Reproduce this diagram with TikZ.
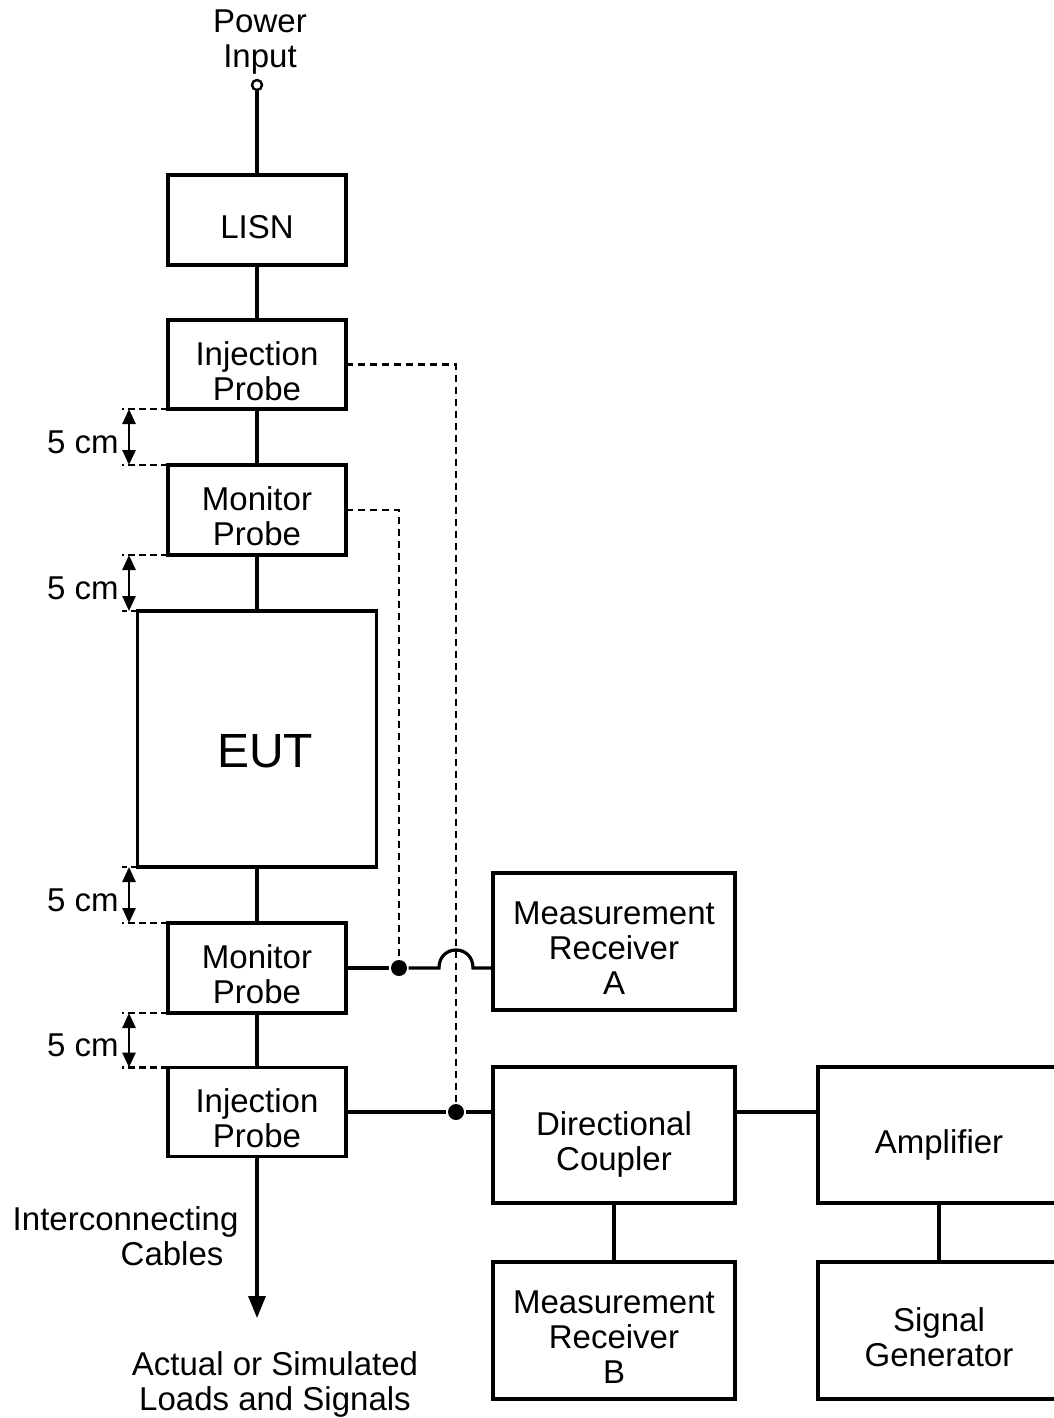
\documentclass[tikz,border=0pt]{standalone}
\usepackage{fontspec}
\setmainfont{Liberation Sans}
\usetikzlibrary{arrows.meta}

\begin{document}
\begin{tikzpicture}[x=1pt, y=-1pt, line width=3.2pt, font=\fontsize{33}{35}\selectfont,
    box/.style = {draw, align=center, inner sep=0, outer sep=0, text depth=0pt},
    one/.style = {text height=36pt},
    two/.style = {text height=71pt},
    three/.style = {text height=106pt},
    probe/.style = {box, two, minimum width=178pt, minimum height=89pt},
    unit/.style = {box, minimum width=242pt, minimum height=137pt},
    dot/.style = {circle, fill, inner sep=0, minimum size=16pt},
    ext/.style = {line width=2.6pt, dash pattern=on 7pt off 4pt},
    link/.style = {line width=2.8pt, dash pattern=on 7pt off 5pt},
    dim/.style = {line width=2.6pt, <->, >={Triangle[length=15pt,width=13pt]}}]
    \useasboundingbox (0,0) rectangle (1053,1418);

    \node[align=center, anchor=base] (PIN) at (260, 68) {Power\\Input};
    \node[circle, draw, fill=white, inner sep=0, minimum size=10pt, line width=2.4pt] (T) at (257, 85) {};
    \node[probe, one, minimum height=90pt] (LISN) at (257, 220) {LISN};
    \node[probe] (IP1) at (257, 364.5) {Injection\\Probe};
    \node[probe, minimum height=90pt] (MP1) at (257, 510) {Monitor\\Probe};
    \node[draw, inner sep=0, outer sep=0, minimum width=239pt, minimum height=256pt] (EUT) at (257, 739) {};
    \node[font=\fontsize{48}{50}\selectfont] (EUTlbl) at (265, 751) {EUT};
    \node[probe, minimum height=90pt] (MP2) at (257, 968) {Monitor\\Probe};
    \node[probe] (IP2) at (257, 1112) {Injection\\Probe};

    \node[unit, three] (MRA) at (614, 941.5) {Measurement\\Receiver\\A};
    \node[unit, two, minimum height=136pt] (DC) at (614, 1135) {Directional\\Coupler};
    \node[unit, one, minimum height=136pt] (AMP) at (939, 1135) {Amplifier};
    \node[unit, three] (MRB) at (614, 1330.5) {Measurement\\Receiver\\B};
    \node[unit, two] (SG) at (939, 1330.5) {Signal\\Generator};

    \node[dot] (D1) at (399, 968) {};
    \node[dot] (D2) at (456, 1112) {};
    \coordinate (J1) at (439, 968);
    \coordinate (J2) at (473, 968);
    \coordinate (OUT) at (257, 1318);
    \coordinate (L) at (122, 0);
    \coordinate (A) at (129, 0);

    % main cable
    \foreach \a/\b in {T/LISN, LISN/IP1, IP1/MP1, MP1/EUT, EUT/MP2, MP2/IP2}
        \draw (\a) -- (\b);
    \draw[->, >={Triangle[length=22pt,width=17pt]}] (IP2) -- (OUT);

    % 5 cm spacings
    \foreach \a/\b in {IP1/MP1, MP1/EUT, EUT/MP2, MP2/IP2} {
        \draw[ext] (\a.south west) -- (L |- \a.south west);
        \draw[ext] (\b.north west) -- (L |- \b.north west);
        \draw[dim] (A |- \a.south west) -- node[left=9pt, inner sep=0, yshift=-5pt] (S\a) {5 cm} (A |- \b.north west);
    }

    % probe leads
    \draw[link] (IP1.east) -| (D2);
    \draw[link] (MP1.east) -| (D1);
    \draw (MP2) -- (D1);
    \draw (D1) -- (J1) .. controls +(0,-24) and +(0,-24) .. (J2) -- (J2 -| MRA.west);
    \draw (IP2) -- (D2);
    \draw (D2) -- (D2 -| DC.west);
    \draw (DC.east |- D2) -- (AMP.west |- D2);
    \draw (DC) -- (MRB);
    \draw (AMP) -- (SG);

    \node[align=right, anchor=base east, inner sep=0] (IC) at (240, 1265) {Interconnecting\\Cables\kern15pt};
    \node[align=center, anchor=base] (LOAD) at (275, 1410) {Actual or Simulated\\Loads and Signals};
\end{tikzpicture}
\end{document}
